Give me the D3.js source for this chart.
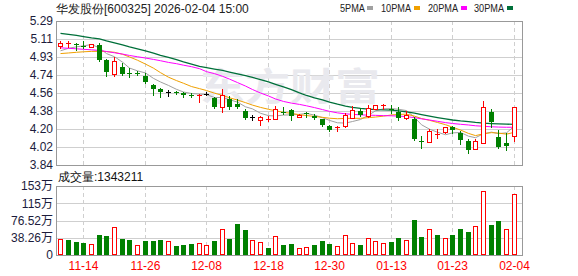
<!DOCTYPE html>
<html>
<head>
<meta charset="utf-8">
<script src="https://cdn.jsdelivr.net/npm/d3@7"></script>
<style>
body { margin: 0; background: #fff; }
svg { display: block; font-family: "Liberation Sans", Arial, sans-serif; }
</style>
</head>
<body>
<svg id="chart" width="578" height="276"></svg>
<script>
const dates = ["11-11","11-12","11-13","11-14","11-17","11-18","11-19","11-20","11-21","11-24",
    "11-25","11-26","11-27","11-28","12-01","12-02","12-03","12-04","12-05","12-08",
    "12-09","12-10","12-11","12-12","12-15","12-16","12-17","12-18","12-19","12-22",
    "12-23","12-24","12-25","12-26","12-29","12-30","12-31","01-05","01-06","01-07",
    "01-08","01-09","01-12","01-13","01-14","01-15","01-16","01-19","01-20","01-21",
    "01-22","01-23","01-26","01-27","01-28","01-29","01-30","02-02","02-03","02-04"];

const opens = [5.035,5.06,5.06,5.035,5.03,5.05,4.898,4.76,4.824,4.77,
    4.765,4.74,4.645,4.605,4.58,4.575,4.57,4.545,4.54,4.552,
    4.51,4.42,4.50,4.45,4.387,4.32,4.29,4.30,4.30,4.375,
    4.39,4.32,4.36,4.335,4.30,4.235,4.215,4.23,4.315,4.385,
    4.33,4.405,4.435,4.405,4.37,4.31,4.30,4.08,4.075,4.15,
    4.175,4.22,4.16,4.08,4.005,4.065,4.37,4.125,4.06,4.133];
const highs = [5.09,5.085,5.065,5.09,5.06,5.07,4.908,4.93,4.87,4.82,
    4.79,4.765,4.655,4.615,4.595,4.59,4.575,4.56,4.555,4.58,
    4.52,4.61,4.53,4.50,4.40,4.34,4.335,4.33,4.435,4.42,
    4.40,4.35,4.375,4.35,4.30,4.245,4.235,4.36,4.435,4.41,
    4.445,4.445,4.455,4.445,4.42,4.38,4.32,4.13,4.20,4.20,
    4.225,4.235,4.18,4.10,4.10,4.485,4.40,4.19,4.16,4.42];
const lows = [5.01,5.025,5.0,5.015,5.025,4.885,4.74,4.73,4.75,4.725,
    4.75,4.665,4.54,4.52,4.535,4.55,4.52,4.52,4.47,4.54,
    4.415,4.36,4.40,4.415,4.307,4.29,4.235,4.28,4.29,4.35,
    4.29,4.315,4.32,4.30,4.23,4.18,4.18,4.215,4.31,4.33,
    4.315,4.39,4.40,4.36,4.29,4.29,4.09,4.015,4.065,4.115,
    4.15,4.16,4.055,3.965,3.99,4.05,4.225,4.015,3.99,4.075];
const closes = [5.07,5.065,5.045,5.03,5.055,4.90,4.78,4.885,4.76,4.755,
    4.76,4.675,4.61,4.578,4.58,4.568,4.54,4.535,4.548,4.552,
    4.425,4.54,4.427,4.42,4.318,4.32,4.322,4.305,4.40,4.37,
    4.33,4.345,4.355,4.31,4.245,4.19,4.225,4.34,4.39,4.345,
    4.41,4.44,4.445,4.40,4.31,4.345,4.10,4.07,4.18,4.155,
    4.22,4.19,4.095,3.99,4.08,4.42,4.27,4.02,4.028,4.42];

// volume in 万
const volumes = [34.7,33.3,28.8,26.6,23.7,44.4,42.1,61.4,35.5,33.3,
    21.4,31.1,31.1,33.3,30.3,20.0,22.2,24.4,25.9,21.4,
    31.1,56.9,35.5,68.8,55.4,32.5,28.1,15.5,41.4,22.2,
    24.4,14.8,17.0,22.2,31.1,24.4,19.2,43.6,25.9,22.2,
    37.0,30.3,25.9,28.8,37.7,32.5,77.6,39.9,56.9,44.4,
    37.0,44.4,57.7,51.0,63.6,141.2,66.5,75.4,56.9,134.3211];

const ma5 = [4.99,5.015,5.03,5.04,5.053,5.019,4.962,4.93,4.876,4.816,
    4.788,4.767,4.712,4.676,4.641,4.602,4.575,4.56,4.554,4.549,
    4.52,4.52,4.498,4.473,4.426,4.405,4.361,4.337,4.333,4.343,
    4.345,4.35,4.36,4.342,4.317,4.289,4.265,4.262,4.278,4.298,
    4.342,4.385,4.406,4.408,4.401,4.388,4.32,4.245,4.201,4.17,
    4.145,4.163,4.168,4.13,4.115,4.155,4.171,4.156,4.164,4.232];
const ma10 = [4.962,4.968,4.975,4.98,4.984,4.985,4.982,4.975,4.955,4.928,
    4.895,4.856,4.815,4.77,4.724,4.69,4.663,4.63,4.609,4.59,
    4.563,4.541,4.517,4.494,4.468,4.443,4.42,4.401,4.386,4.37,
    4.36,4.346,4.338,4.329,4.32,4.311,4.306,4.309,4.31,4.31,
    4.317,4.323,4.332,4.344,4.349,4.352,4.332,4.308,4.29,4.268,
    4.246,4.221,4.192,4.158,4.136,4.154,4.166,4.161,4.151,4.169];
const ma20 = [5.02,5.015,5.01,5.005,5.0,4.993,4.983,4.97,4.957,4.943,
    4.93,4.917,4.903,4.89,4.873,4.86,4.845,4.83,4.81,4.78,
    4.76,4.733,4.705,4.67,4.635,4.6,4.565,4.535,4.505,4.48,
    4.463,4.45,4.436,4.418,4.398,4.38,4.365,4.355,4.35,4.345,
    4.342,4.34,4.337,4.335,4.333,4.327,4.317,4.305,4.293,4.28,
    4.267,4.258,4.25,4.243,4.235,4.23,4.225,4.222,4.22,4.22];
const ma30 = [5.166,5.155,5.145,5.133,5.12,5.11,5.09,5.07,5.05,5.03,
    5.01,4.99,4.967,4.945,4.924,4.90,4.878,4.855,4.832,4.82,
    4.806,4.792,4.775,4.757,4.74,4.722,4.70,4.677,4.653,4.627,
    4.60,4.567,4.54,4.515,4.495,4.473,4.452,4.433,4.42,4.41,
    4.403,4.398,4.395,4.393,4.385,4.374,4.362,4.348,4.333,4.318,
    4.304,4.293,4.284,4.277,4.269,4.262,4.257,4.254,4.251,4.25];

const priceTickLabels = ["5.29","5.11","4.93","4.74","4.56","4.38","4.20","4.02","3.84"];
const volTickValues = [0, 38.26, 76.52, 114.78, 153.04];
const volTickLabels = ["0","38.26万","76.52万","115万","153万"];
const dateTicks = ["11-14","11-26","12-08","12-18","12-30","01-13","01-23","02-04"];

const maLines = [
    { name: "5PMA", values: ma5, color: "#a0a0a0" },
    { name: "10PMA", values: ma10, color: "#f0a000" },
    { name: "20PMA", values: ma20, color: "#ff00ff" },
    { name: "30PMA", values: ma30, color: "#00703a" }
];

const svg = d3.select("#chart");
const left = 56, right = 522;
const pTop = 21, pBottom = 165;
const vTop = 186, vBottom = 255;
const UP = "#ff0000", DOWN = "#008000";

const x = d3.scaleBand().domain(dates).range([56.5, 517.5]);
const cx = d => Math.round(x(d) + x.bandwidth() / 2);
const y = d3.scaleLinear().domain([3.84, 5.29]).range([pBottom, pTop]);
const yv = d3.scaleLinear().domain([0, 153.04]).range([vBottom, vTop]);

const priceTicks = priceTickLabels.map((_, i) => 5.29 - i * (5.29 - 3.84) / 8);

// ---- header ----
svg.append("text")
    .attr("x", 56).attr("y", 13)
    .style("font-size", "12px")
    .attr("fill", "#222")
    .text("华发股份[600325] 2026-02-04 15:00");

const legendX = [340, 381, 428, 474];
maLines.forEach((m, i) => {
    svg.append("text")
        .attr("x", legendX[i]).attr("y", 12)
        .attr("textLength", i === 0 ? 25 : 30)
        .attr("lengthAdjust", "spacingAndGlyphs")
        .style("font-size", "10px")
        .attr("fill", "#222")
        .text(m.name);
    svg.append("rect")
        .attr("x", legendX[i] + (i === 0 ? 27 : 33)).attr("y", 6)
        .attr("width", 6).attr("height", 4)
        .attr("fill", m.color);
});

// ---- price panel grid ----
svg.append("g")
    .selectAll("line")
    .data(priceTicks.slice(1, -1))
    .enter().append("line")
    .attr("x1", left).attr("x2", right)
    .attr("y1", d => Math.round(y(d)) + 0.5).attr("y2", d => Math.round(y(d)) + 0.5)
    .attr("stroke", "#cfcfcf");

function vGrid(y1, y2) {
    svg.append("g")
        .selectAll("line")
        .data(dateTicks)
        .enter().append("line")
        .attr("x1", d => cx(d) + 0.5).attr("x2", d => cx(d) + 0.5)
        .attr("y1", y1).attr("y2", y2)
        .attr("stroke", "#cfcfcf")
        .attr("stroke-dasharray", "4,3");
}
vGrid(pTop, pBottom);

// watermark
svg.append("text")
    .attr("x", 290).attr("y", 100)
    .attr("text-anchor", "middle")
    .attr("textLength", 180)
    .attr("lengthAdjust", "spacingAndGlyphs")
    .style("font-family", "'Noto Sans CJK SC', sans-serif")
    .style("font-size", "38px")
    .style("font-weight", "bold")
    .attr("fill", "#e9e9ee")
    .text("东方财富");

// price axis labels
const yAxis = svg.append("g")
    .attr("transform", `translate(${left},0)`)
    .call(d3.axisLeft(y).tickValues(priceTicks).tickSize(0).tickPadding(3)
        .tickFormat((d, i) => priceTickLabels[i]));
yAxis.select(".domain").remove();
yAxis.selectAll("text")
    .style("font-family", "'Liberation Sans', Arial, sans-serif")
    .style("font-size", "12px")
    .attr("fill", "#1c1c3c");

// ---- moving averages ----
maLines.forEach(m => {
    const line = d3.line()
        .x((d, i) => cx(dates[i]) + 0.5)
        .y(d => y(d));
    svg.append("path")
        .datum(m.values)
        .attr("fill", "none")
        .attr("stroke", m.color)
        .attr("stroke-width", m.name === "30PMA" ? 1.3 : 1)
        .attr("d", line);
});

// ---- candles ----
const candles = dates.map((d, i) => ({
    date: d, open: opens[i], high: highs[i], low: lows[i], close: closes[i]
}));

const candle = svg.append("g")
    .selectAll("g")
    .data(candles)
    .enter().append("g");

function candleColor(d) {
    if (d.close > d.open) return UP;
    if (d.close < d.open) return DOWN;
    return "#000";
}

candle.each(function(d) {
    const g = d3.select(this);
    const c = cx(d.date);
    const col = candleColor(d);
    const top = Math.round(y(Math.max(d.open, d.close)));
    const bot = Math.round(y(Math.min(d.open, d.close)));
    const hi = Math.round(y(d.high));
    const lo = Math.round(y(d.low));
    if (d.close > d.open && bot - top >= 2) {
        g.append("line").attr("x1", c + 0.5).attr("x2", c + 0.5)
            .attr("y1", hi).attr("y2", top).attr("stroke", col);
        g.append("line").attr("x1", c + 0.5).attr("x2", c + 0.5)
            .attr("y1", bot + 1).attr("y2", lo).attr("stroke", col);
        g.append("rect")
            .attr("x", c - 1.5).attr("y", top + 0.5)
            .attr("width", 4).attr("height", bot - top)
            .attr("fill", "#fff").attr("stroke", col);
    } else {
        g.append("line").attr("x1", c + 0.5).attr("x2", c + 0.5)
            .attr("y1", hi).attr("y2", lo + 1).attr("stroke", col);
        g.append("rect")
            .attr("x", c - 2).attr("y", top)
            .attr("width", 5).attr("height", Math.max(1, bot - top))
            .attr("fill", col);
    }
});

// price panel border
svg.append("rect")
    .attr("x", left + 0.5).attr("y", pTop + 0.5)
    .attr("width", right - left).attr("height", pBottom - pTop)
    .attr("fill", "none").attr("stroke", "#999");

// ---- volume panel ----
svg.append("text")
    .attr("x", 58).attr("y", 181)
    .style("font-size", "12px")
    .attr("fill", "#111")
    .text("成交量:" + Math.round(volumes[volumes.length - 1] * 10000));

svg.append("g")
    .selectAll("line")
    .data(volTickValues.slice(1, -1))
    .enter().append("line")
    .attr("x1", left).attr("x2", right)
    .attr("y1", d => Math.round(yv(d)) + 0.5).attr("y2", d => Math.round(yv(d)) + 0.5)
    .attr("stroke", "#cfcfcf");
vGrid(vTop, vBottom);

const vAxis = svg.append("g")
    .attr("transform", `translate(${left},0)`)
    .call(d3.axisLeft(yv).tickValues(volTickValues).tickSize(0).tickPadding(3)
        .tickFormat((d, i) => volTickLabels[i]));
vAxis.select(".domain").remove();
vAxis.selectAll("text")
    .style("font-family", "'Liberation Sans', 'Noto Sans CJK SC', sans-serif")
    .style("font-size", "12px")
    .attr("fill", "#1c1c3c");

// volume colour follows close vs previous close
const volUp = closes.map((c, i) => i === 0 ? c > opens[0] : c >= closes[i - 1]);

svg.append("g")
    .selectAll("rect")
    .data(volumes)
    .enter().append("rect")
    .attr("x", (d, i) => volUp[i] ? cx(dates[i]) - 1.5 : cx(dates[i]) - 2)
    .attr("y", (d, i) => Math.round(yv(d)) + (volUp[i] ? 0.5 : 0))
    .attr("width", (d, i) => volUp[i] ? 4 : 5)
    .attr("height", (d, i) => vBottom - Math.round(yv(d)) - (volUp[i] ? 1 : 0))
    .attr("fill", (d, i) => volUp[i] ? "#fff" : DOWN)
    .attr("stroke", (d, i) => volUp[i] ? UP : "none");

svg.append("rect")
    .attr("x", left + 0.5).attr("y", vTop + 0.5)
    .attr("width", right - left).attr("height", vBottom - vTop)
    .attr("fill", "none").attr("stroke", "#999");

// date labels
svg.append("g")
    .selectAll("text")
    .data(dateTicks)
    .enter().append("text")
    .attr("x", d => cx(d) + 0.5)
    .attr("y", 270)
    .attr("text-anchor", "middle")
    .style("font-size", "12px")
    .attr("fill", "#ff0000")
    .text(d => d);
</script>
</body>
</html>
